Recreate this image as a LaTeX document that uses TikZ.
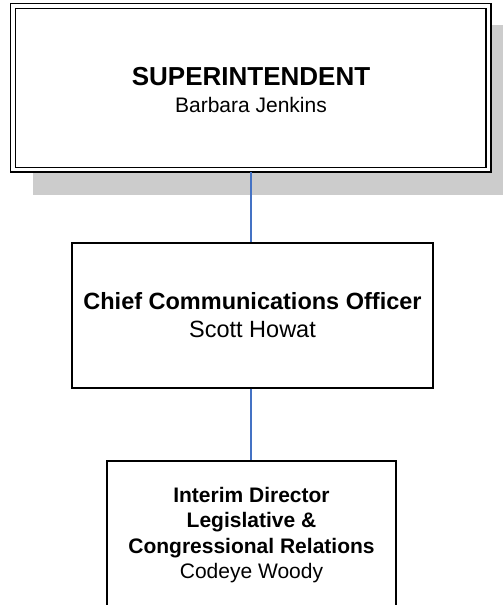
\documentclass[tikz,border=0pt]{standalone}
\usepackage{fontspec}
\setmainfont{Liberation Sans}
\definecolor{shadowgray}{HTML}{CCCCCC}
\definecolor{linkblue}{HTML}{4472C4}
\begin{document}
\begin{tikzpicture}[x=1pt,y=-1pt,
  boxline/.style={draw=black,line width=1.4pt},
  link/.style={draw=linkblue,line width=1.3pt},
  txt/.style={anchor=base,inner sep=0pt}]
\useasboundingbox (0,0) rectangle (503,605);
\clip (0,0) rectangle (503,605);
% shadow of top box
\fill[shadowgray] (33,25) rectangle (520,195);
% top box with double border
\fill[white] (10.5,3.5) rectangle (491,172);
\draw[boxline] (10.5,3.5) rectangle (491,172);
\draw[boxline] (15.5,8.5) rectangle (486,167.5);
\coordinate (topbottom) at (251,172);
\node[txt,font=\fontsize{26}{30}\selectfont\bfseries] (sup) at (251,85) {SUPERINTENDENT};
\node[txt,font=\fontsize{21}{25}\selectfont] (supname) at (251,112) {Barbara Jenkins};
% middle box
\node[boxline,minimum width=361pt,minimum height=145pt,inner sep=0pt] (cco) at (252.5,315.5) {};
\node[txt,font=\fontsize{23.5}{28}\selectfont\bfseries] (ccot) at (252.5,309) {Chief Communications Officer};
\node[txt,font=\fontsize{23.5}{28}\selectfont] (cconame) at (252.5,337.5) {Scott Howat};
% bottom box
\node[boxline,minimum width=289pt,minimum height=146pt,inner sep=0pt] (dir) at (251.5,534) {};
\node[txt,font=\fontsize{21}{25}\selectfont\bfseries] (dir1) at (251.5,502) {Interim Director};
\node[txt,font=\fontsize{21}{25}\selectfont\bfseries] (dir2) at (251.5,527.5) {Legislative \&};
\node[txt,font=\fontsize{21}{25}\selectfont\bfseries] (dir3) at (251.5,553) {Congressional Relations};
\node[txt,font=\fontsize{21}{25}\selectfont] (dirname) at (251.5,578) {Codeye Woody};
% connectors
\draw[link] (topbottom) -- (cco.north -| topbottom);
\draw[link] (cco.south -| topbottom) -- (dir.north -| topbottom);
\end{tikzpicture}
\end{document}
